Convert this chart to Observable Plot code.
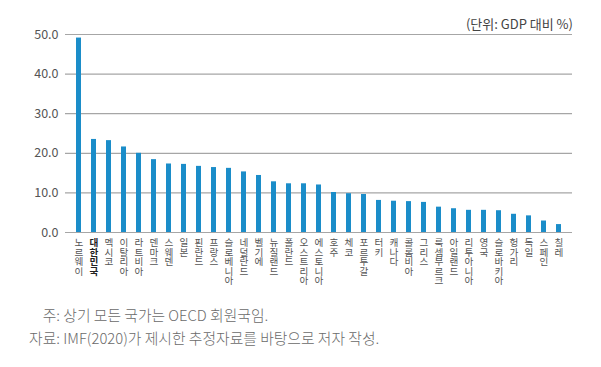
<!DOCTYPE html>
<html>
<head>
<meta charset="utf-8">
<script src="https://cdn.jsdelivr.net/npm/d3@7"></script>
<script src="https://cdn.jsdelivr.net/npm/@observablehq/plot@0.6"></script>
<style>
  body { margin: 0; background: #fff; font-family: "Noto Sans CJK KR", "Noto Sans", sans-serif; }
  #wrap { position: relative; width: 601px; height: 367px; }
  #unit { position: absolute; top: 14px; right: 28px; font-size: 13px; color: #444; }
  #notes { position: absolute; top: 303px; left: 0; font-size: 14.8px; color: #6a6a6a; line-height: 23px; font-weight: 300; white-space: nowrap; }
  #notes .row { display: flex; }
  #notes .lab { width: 60px; text-align: right; }
  .vlab text { writing-mode: vertical-rl; text-orientation: upright; }
</style>
</head>
<body>
<div id="wrap">
  <div id="chart"></div>
  <div id="unit">(단위: GDP 대비 %)</div>
  <div id="notes">
    <div class="row"><span class="lab">주:</span><span>&nbsp;상기 모든 국가는 OECD 회원국임.</span></div>
    <div class="row"><span class="lab">자료:</span><span>&nbsp;IMF(2020)가 제시한 추정자료를 바탕으로 저자 작성.</span></div>
  </div>
</div>
<script>
const countries = ["노르웨이","대한민국","멕시코","이탈리아","라트비아","덴마크","스웨덴","일본","핀란드","프랑스","슬로베니아","네덜란드","벨기에","뉴질랜드","폴란드","오스트리아","에스토니아","호주","체코","포르투갈","터키","캐나다","콜롬비아","그리스","룩셈부르크","아일랜드","리투아니아","영국","슬로바키아","헝가리","독일","스페인","칠레"];
const values = [49.1,23.5,23.2,21.6,20.0,18.4,17.3,17.2,16.7,16.4,16.2,15.3,14.4,12.8,12.3,12.3,12.0,10.1,9.8,9.6,8.1,7.9,7.8,7.6,6.4,6.0,5.6,5.6,5.5,4.6,4.2,2.9,2.0];
const yTicks = [0,10,20,30,40,50];
const highlight = "대한민국";

const data = countries.map((c, i) => ({country: c, value: values[i]}));

const chart = Plot.plot({
  width: 601,
  height: 300,
  marginLeft: 65,
  marginRight: 29,
  marginTop: 34,
  marginBottom: 68,
  style: {fontFamily: "'Noto Sans CJK KR', 'Noto Sans', sans-serif", background: "transparent", overflow: "visible"},
  x: {domain: countries, paddingInner: 0.67, paddingOuter: 0.33, axis: null},
  y: {domain: [0, 50], ticks: yTicks, tickFormat: d3.format(".1f"), label: null},
  marks: [
    Plot.ruleY(yTicks, {stroke: "#a6a6a6", strokeWidth: 1.2}),
    Plot.axisY({ticks: yTicks, tickFormat: d3.format(".1f"), tickSize: 0, tickPadding: 7, fontSize: 12.5, color: "#555", label: null}),
    Plot.barY(data, {x: "country", y: "value", fill: "#1b8dc9"}),
    Plot.text(data.filter(d => d.country !== highlight), {className: "vlab", x: "country", text: "country", frameAnchor: "bottom", textAnchor: "start", dy: 5, fontSize: 9.6, fill: "#555"}),
    Plot.text(data.filter(d => d.country === highlight), {className: "vlab", x: "country", text: "country", frameAnchor: "bottom", textAnchor: "start", dy: 5, fontSize: 9.6, fill: "#222", fontWeight: "bold"})
  ]
});
d3.select(chart).selectAll(".vlab text").attr("dy", null);
document.getElementById("chart").appendChild(chart);
</script>
</body>
</html>
